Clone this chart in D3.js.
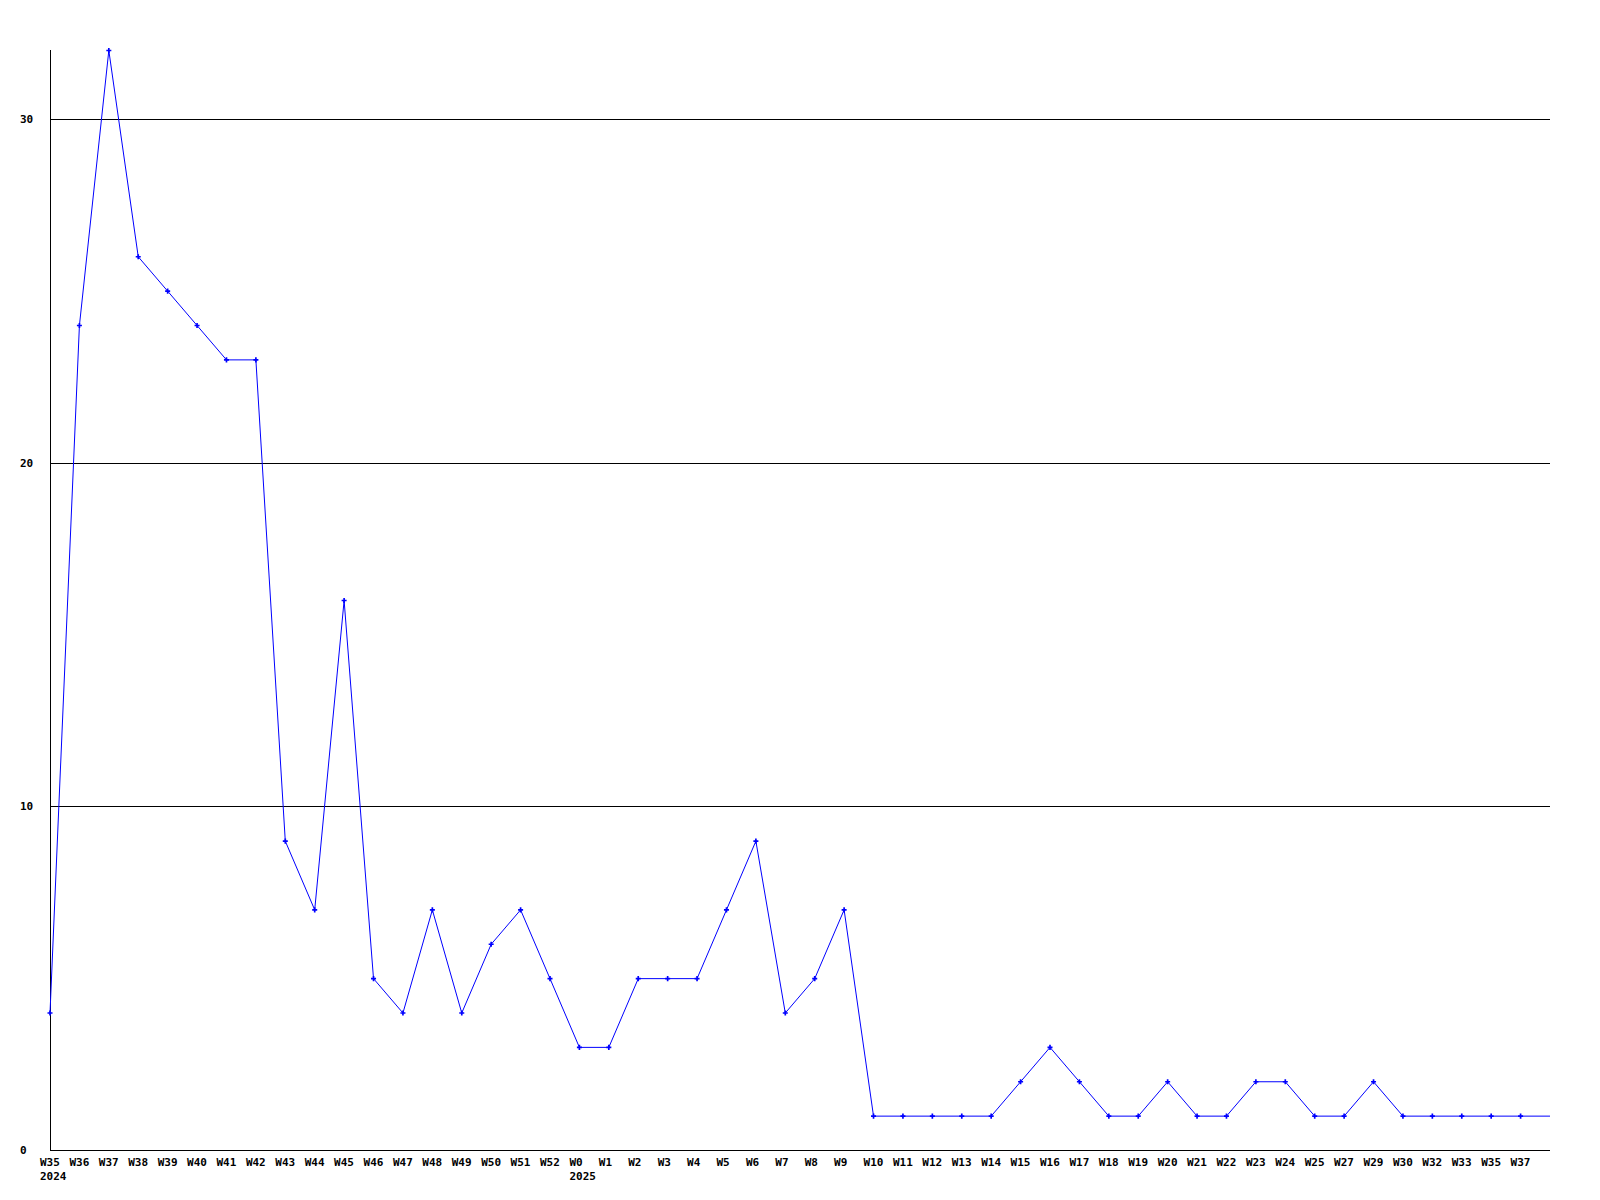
<!DOCTYPE html>
<html>
<head>
<meta charset="utf-8">
<script src="https://cdn.jsdelivr.net/npm/d3@7"></script>
<style>
  body { margin: 0; background: #fff; }
  text { font-family: "DejaVu Sans Mono", "Liberation Mono", monospace; font-weight: bold; font-size: 11px; fill: #000; }
</style>
</head>
<body>
<div id="chart"></div>
<script>
const weeks = ['W35','W36','W37','W38','W39','W40','W41','W42','W43','W44','W45','W46','W47','W48','W49','W50','W51','W52',
  'W0','W1','W2','W3','W4','W5','W6','W7','W8','W9','W10','W11','W12','W13','W14','W15','W16','W17','W18','W19','W20',
  'W21','W22','W23','W24','W25','W27','W29','W30','W32','W33','W35','W37'];
const counts = [4,24,32,26,25,24,23,23,9,7,16,5,4,7,4,6,7,5,
  3,3,5,5,5,7,9,4,5,7,1,1,1,1,1,2,3,2,1,1,2,
  1,1,2,2,1,1,2,1,1,1,1,1];
const years = [{ week: 0, label: '2024' }, { week: 18, label: '2025' }];
const yTicks = [0, 10, 20, 30];
const yGrid = [10, 20, 30];

const width = 1600, height = 1200;
const margin = { left: 50, right: 50, top: 50, bottom: 50 };

const svg = d3.select('#chart').append('svg')
    .attr('width', width)
    .attr('height', height);

const xScale = d3.scaleLinear()
    .domain([0, weeks.length])
    .range([margin.left, width - margin.right]);

const yScale = d3.scaleLinear()
    .domain([0, d3.max(counts)])
    .range([height - margin.bottom, margin.top]);

const px = v => Math.round(v) + 0.5;

// grid lines
svg.selectAll('line.grid').data(yGrid)
  .enter().append('line')
    .attr('class', 'grid')
    .attr('x1', xScale(0))
    .attr('x2', xScale(weeks.length))
    .attr('y1', d => px(yScale(d)))
    .attr('y2', d => px(yScale(d)))
    .attr('stroke', '#000')
    .attr('stroke-width', 1)
    .attr('shape-rendering', 'crispEdges');

// axes lines
svg.append('line')
    .attr('x1', px(xScale(0))).attr('x2', px(xScale(0)))
    .attr('y1', yScale(d3.max(counts))).attr('y2', px(yScale(0)))
    .attr('stroke', '#000')
    .attr('shape-rendering', 'crispEdges');
svg.append('line')
    .attr('x1', xScale(0)).attr('x2', xScale(weeks.length))
    .attr('y1', px(yScale(0))).attr('y2', px(yScale(0)))
    .attr('stroke', '#000')
    .attr('shape-rendering', 'crispEdges');

// y tick labels
svg.selectAll('text.ytick').data(yTicks)
  .enter().append('text')
    .attr('class', 'ytick')
    .attr('x', 20)
    .attr('y', d => Math.round(yScale(d)) + 4)
    .text(d => d);

// x tick labels
svg.selectAll('text.xtick').data(weeks)
  .enter().append('text')
    .attr('class', 'xtick')
    .attr('x', (d, i) => xScale(i) - 10)
    .attr('y', yScale(0) + 16)
    .text(d => d);

svg.selectAll('text.year').data(years)
  .enter().append('text')
    .attr('class', 'year')
    .attr('x', d => xScale(d.week) - 10)
    .attr('y', yScale(0) + 30)
    .text(d => d.label);

// series line, running on to the end of the axis at the last value
const linePts = counts.map((v, i) => [i, v]);
linePts.push([weeks.length, counts[counts.length - 1]]);

const line = d3.line()
    .x(d => xScale(d[0]))
    .y(d => yScale(d[1]) + 0.5);

svg.append('path')
    .datum(linePts)
    .attr('d', line)
    .attr('fill', 'none')
    .attr('stroke', '#0000ff')
    .attr('stroke-width', 1);

svg.selectAll('path.mark').data(counts)
  .enter().append('path')
    .attr('class', 'mark')
    .attr('d', d3.symbol().type(d3.symbolCross).size(14))
    .attr('transform', (d, i) => `translate(${xScale(i)},${yScale(d) + 0.5})`)
    .attr('fill', '#0000ff');
</script>
</body>
</html>
